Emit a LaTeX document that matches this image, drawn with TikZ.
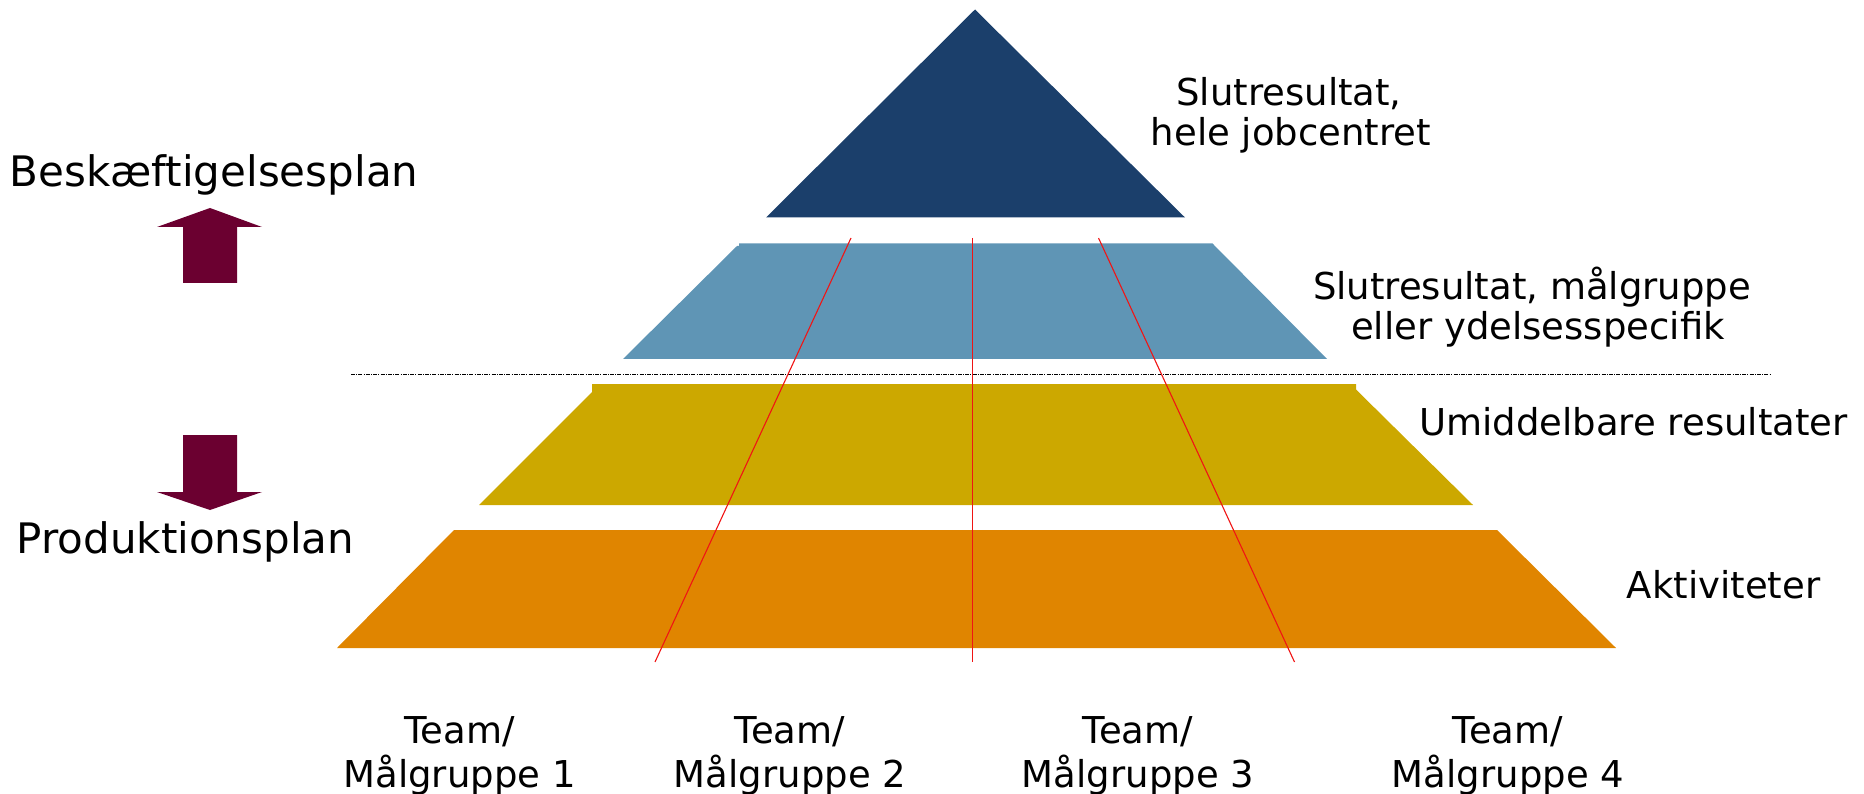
\documentclass[tikz,border=0pt]{standalone}
\usepackage{fontspec}
\setmainfont{DejaVu Sans}
\definecolor{navy}{RGB}{27,63,107}
\definecolor{lblue}{RGB}{95,149,181}
\definecolor{gold}{RGB}{204,168,0}
\definecolor{orng}{RGB}{224,133,0}
\definecolor{maroon}{RGB}{107,0,48}
\definecolor{redline}{RGB}{240,20,20}
\begin{document}
\begin{tikzpicture}[x=1pt,y=-1pt,
  bigtxt/.style={font=\fontsize{42}{48}\selectfont, inner sep=0pt, anchor=base},
  lbl/.style={font=\fontsize{37}{42}\selectfont, inner sep=0pt, anchor=base},
  layer/.style={draw=none},
  divider/.style={red!90!black, color=redline, line width=1.1pt},
  bigarrow/.style={fill=maroon, draw=none}]
\useasboundingbox (0,0) rectangle (1864,794);
% layers
\fill[navy] (975,9.5) -- (1185,217.5) -- (766,217.5) -- cycle;
\fill[lblue] (739,243.5) -- (1212.5,243.5) -- (1327,359) -- (623,359) -- (737,246) -- (739,246) -- cycle;
\fill[gold] (592,384) -- (1356,384) -- (1356,389.5) -- (1473,505) -- (479,505) -- (592,392) -- cycle;
\fill[orng] (454,530) -- (1497,530) -- (1616,648) -- (337,648) -- cycle;
% dotted separator
\coordinate (sepL) at (351,374.5);
\coordinate (sepR) at (1771,374.5);
\draw[line width=0.8pt, dash pattern=on 4pt off 1.2pt on 1pt off 1.2pt] (sepL) -- (sepR);
% red dividers
\coordinate (r1t) at (851,238); \coordinate (r1b) at (655,662);
\coordinate (r2t) at (972.5,238); \coordinate (r2b) at (972.5,662);
\coordinate (r3t) at (1098.5,238); \coordinate (r3b) at (1294.5,662);
\draw[divider] (r1t) -- (r1b);
\draw[divider, line width=0.9pt] (r2t) -- (r2b);
\draw[divider] (r3t) -- (r3b);
% arrows
\fill[bigarrow] (210,208) -- (262,227) -- (237,227) -- (237,283) -- (183,283) -- (183,227) -- (157,227) -- cycle;
\fill[bigarrow] (183,435) -- (237,435) -- (237,492) -- (262,492) -- (210,510) -- (157,492) -- (183,492) -- cycle;
% left labels
\node[bigtxt] (besk) at (214,186.5) {Beskæftigelsesplan};
\node[bigtxt] (prod) at (185.5,553.5) {Produktionsplan};
% right labels
\node[lbl] (s1a) at (1289,106) {Slutresultat,};
\node[lbl] (s1b) at (1291,146) {hele jobcentret};
\node[lbl] (s2a) at (1532,299.5) {Slutresultat, målgruppe};
\node[lbl] (s2b) at (1538,340) {eller ydelsesspecifik};
\node[lbl] (umid) at (1633.5,435) {Umiddelbare resultater};
\node[lbl] (akt) at (1723.5,598) {Aktiviteter};
% bottom labels
\foreach \x/\n in {459.5/1,790/2,1138/3,1508/4}{
  \node[lbl] (team\n) at (\x,743) {Team/};
  \node[lbl] (mg\n) at (\x,787) {Målgruppe \n};
}
\end{tikzpicture}
\end{document}
